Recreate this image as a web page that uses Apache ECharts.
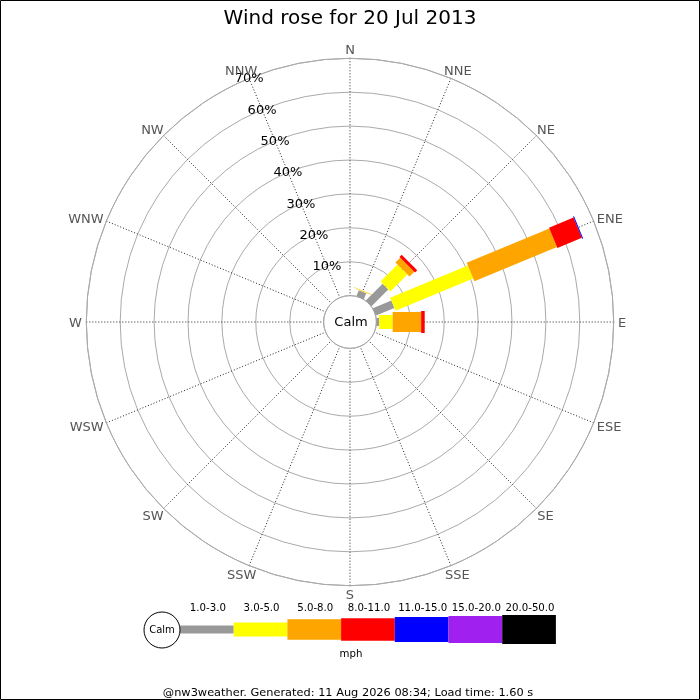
<!DOCTYPE html>
<html><head><meta charset="utf-8">
<script src="https://cdn.jsdelivr.net/npm/echarts@6/dist/echarts.min.js"></script>
<style>html,body{margin:0;padding:0;background:#fff}#c{width:700px;height:700px}</style>
</head><body><div id="c"></div>
<script>
// ---- data ----
const directions = ['N','NNE','NE','ENE','E','ESE','SE','SSE','S','SSW','SW','WSW','W','WNW','NW','NNW'];
const bands = ['1.0-3.0','3.0-5.0','5.0-8.0','8.0-11.0','11.0-15.0','15.0-20.0','20.0-50.0'];
// percentage of time per direction, one array per speed band (mph)
const band1 = [0, 1.9, 7.0, 5.9, 0.8, 0, 0, 0, 0, 0, 0, 0, 0, 0, 0, 0];
const band2 = [0, 0.15, 7.1, 24.8, 4.0, 0, 0, 0, 0, 0, 0, 0, 0, 0, 0, 0];
const band3 = [0, 0.15, 2.0, 26.4, 8.4, 0, 0, 0, 0, 0, 0, 0, 0, 0, 0, 0];
const band4 = [0, 0, 0.9, 7.8, 1.05, 0, 0, 0, 0, 0, 0, 0, 0, 0, 0, 0];
const band5 = [0, 0, 0, 0.3, 0, 0, 0, 0, 0, 0, 0, 0, 0, 0, 0, 0];
const band6 = [0, 0, 0, 0, 0, 0, 0, 0, 0, 0, 0, 0, 0, 0, 0, 0];
const band7 = [0, 0, 0, 0, 0, 0, 0, 0, 0, 0, 0, 0, 0, 0, 0, 0];
const ringTicks = [10, 20, 30, 40, 50, 60, 70];
const ringLabels = ['10%', '20%', '30%', '40%', '50%', '60%', '70%'];
const titleText = 'Wind rose for 20 Jul 2013';
const footerText = '@nw3weather. Generated: 11 Aug 2026 08:34; Load time: 1.60 s';
const unitText = 'mph';
const calmText = 'Calm';

// ---- styles ----
const bandColors = ['#999999', '#ffff00', '#ffa500', '#ff0000', '#0000ff', '#a020f0', '#000000'];
const barWidths = [8, 14, 20, 22, 24, 27, 29];
const legendHeights = [8, 14, 20.5, 22.5, 25, 27, 29];
const FONT = 'DejaVu Sans';
const DIR_FONT_SIZE = 13;

const bandSeries = [band1, band2, band3, band4, band5, band6, band7];
const barItems = [];
directions.forEach((d, i) => {
  let cum = 0;
  bandSeries.forEach((arr, b) => {
    const v = arr[i];
    if (v > 0) { barItems.push([i, b, cum, cum + v]); cum += v; }
  });
});

const step = 360 / directions.length;

const measureCtx = document.createElement('canvas').getContext('2d');
measureCtx.font = DIR_FONT_SIZE + 'px "' + FONT + '"';

function renderBar(params, api) {
  const di = api.value(0), b = api.value(1), s = api.value(2), e = api.value(3);
  const ang = di * step;
  const p0 = api.coord([s, ang]);
  const p1 = api.coord([e, ang]);
  const cx = params.coordSys.cx, cy = params.coordSys.cy;
  let ux = p1[0] - cx, uy = p1[1] - cy;
  const len = Math.sqrt(ux * ux + uy * uy) || 1;
  ux /= len; uy /= len;
  const nx = -uy, ny = ux, h = barWidths[b] / 2;
  return {
    type: 'polygon',
    shape: { points: [
      [p0[0] + nx * h, p0[1] + ny * h],
      [p1[0] + nx * h, p1[1] + ny * h],
      [p1[0] - nx * h, p1[1] - ny * h],
      [p0[0] - nx * h, p0[1] - ny * h]
    ] },
    style: { fill: bandColors[b], stroke: null }
  };
}

function renderRingLabel(params, api) {
  const v = api.value(0);
  const p = api.coord([v, 337.5]);
  return {
    type: 'text',
    x: p[0], y: p[1] + 0.5,
    style: { text: ringLabels[params.dataIndex], align: 'center', verticalAlign: 'middle',
      fontSize: 13, fontFamily: FONT, fill: '#000' }
  };
}

// direction labels: box placed just outside the outer ring
function renderDirLabel(params, api) {
  const ang = api.value(1);
  const txt = directions[params.dataIndex];
  const p = api.coord([api.value(0), ang]);
  const rad = ang * Math.PI / 180;
  const w = measureCtx.measureText(txt).width;
  const hh = 9;
  const x = p[0] + (w * 0.5) * Math.sin(rad);
  const y = p[1] - (hh / 2) * Math.cos(rad) + 1.5;
  return {
    type: 'text', x: x, y: y,
    style: { text: txt, align: 'center', verticalAlign: 'middle', fontSize: DIR_FONT_SIZE, fontFamily: FONT, fill: '#555' }
  };
}

// legend graphics
const legendGraphics = [];
const lgX0 = 180, lgW = 53.7, lgY = 629.5;
bands.forEach((b, i) => {
  const h = legendHeights[i];
  legendGraphics.push({ type: 'rect', shape: { x: lgX0 + i * lgW, y: lgY - h / 2, width: lgW, height: h },
    style: { fill: bandColors[i] }, z: 10 });
  legendGraphics.push({ type: 'text', x: lgX0 + i * lgW + lgW / 2 + 1, y: 608,
    style: { text: b, align: 'center', verticalAlign: 'middle', fontSize: 10.2, fontFamily: FONT, fill: '#000' }, z: 10 });
});
legendGraphics.push({ type: 'circle', shape: { cx: 162, cy: 630, r: 18 }, style: { fill: '#fff', stroke: '#000', lineWidth: 1 }, z: 11 });
legendGraphics.push({ type: 'text', x: 162, y: 630, style: { text: calmText, align: 'center', verticalAlign: 'middle', fontSize: 10, fontFamily: FONT, fill: '#000' }, z: 12 });
legendGraphics.push({ type: 'text', x: 351, y: 654.5, style: { text: unitText, align: 'center', verticalAlign: 'middle', fontSize: 10.2, fontFamily: FONT, fill: '#000' }, z: 10 });

const chart = echarts.init(document.getElementById('c'), null, { renderer: 'canvas' });
chart.setOption({
  backgroundColor: '#fff',
  animation: false,
  polar: { center: [350, 322], radius: [26.4, 263.7] },
  angleAxis: {
    type: 'value', min: 0, max: 360, interval: step, startAngle: 90, clockwise: true,
    axisLine: { show: true, lineStyle: { color: '#aaaaaa', width: 1 } },
    axisTick: { show: false },
    axisLabel: { show: false },
    splitLine: { show: true, lineStyle: { color: '#222', width: 1, type: [1, 2] } }
  },
  radiusAxis: {
    type: 'value', min: 0, max: 70, interval: 10,
    axisLine: { show: false }, axisTick: { show: false }, axisLabel: { show: false },
    splitLine: { show: true, lineStyle: { color: '#aaaaaa', width: 1, type: 'solid' } }
  },
  series: [
    { type: 'custom', coordinateSystem: 'polar', renderItem: renderBar, data: barItems, z: 3, silent: true },
    { type: 'custom', coordinateSystem: 'polar', renderItem: renderRingLabel,
      data: ringTicks.map(v => [v, 337.5]), z: 4, silent: true },
    { type: 'custom', coordinateSystem: 'polar', renderItem: renderDirLabel, clip: false,
      data: directions.map((d, i) => [71.3, i * step]), z: 4, silent: true }
  ],
  graphic: [
    { type: 'rect', shape: { x: 0.5, y: 0.5, width: 699, height: 699 }, style: { fill: 'none', stroke: '#000', lineWidth: 1 }, z: 20 },
    { type: 'text', x: 350, y: 19, style: { text: titleText, align: 'center', verticalAlign: 'middle', fontSize: 20, fontFamily: FONT, fill: '#000' } },
    { type: 'text', x: 351, y: 322.5, style: { text: calmText, align: 'center', verticalAlign: 'middle', fontSize: 13, fontFamily: FONT, fill: '#000' }, z: 10 },
    { type: 'text', x: 348, y: 693.5, style: { text: footerText, align: 'center', verticalAlign: 'middle', fontSize: 11.35, fontFamily: FONT, fill: '#000' } }
  ].concat(legendGraphics)
});
</script></body></html>
